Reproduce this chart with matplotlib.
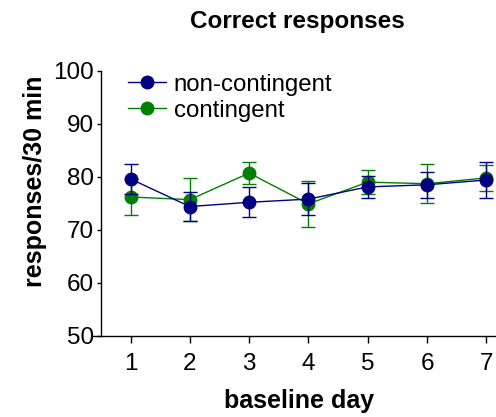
import matplotlib
matplotlib.use("Agg")
import matplotlib.pyplot as plt
from matplotlib.lines import Line2D

plt.rcParams['font.family'] = ['Liberation Sans', 'DejaVu Sans']

days = [1, 2, 3, 4, 5, 6, 7]
noncont_mean = [79.6, 74.4, 75.2, 75.8, 78.1, 78.5, 79.4]
noncont_sem = [2.9, 2.65, 2.85, 2.95, 2.1, 2.45, 3.3]
cont_mean = [76.2, 75.7, 80.7, 74.9, 79.0, 78.7, 79.8]
cont_sem = [3.4, 4.0, 2.1, 4.4, 2.3, 3.7, 2.45]
yticks = [50, 60, 70, 80, 90, 100]

W, H = 496, 417
fig = plt.figure(figsize=(W / 100, H / 100), dpi=100)

def fx(px):
    return px / W

def fy(py):
    return 1 - py / H

ax_left, ax_right, ax_top, ax_bot = 93, 496, 70.7, 336
ax = fig.add_axes([fx(ax_left), fy(ax_bot), fx(ax_right - ax_left), fy(ax_top) - fy(ax_bot)])

x1px, pxunit = 130.5, 59.3
ax.set_xlim(1 - (x1px - ax_left) / pxunit, 1 + (ax_right - x1px) / pxunit)
ax.set_ylim(50, 100)

blue = '#000080'
green = '#008000'
ms = 9.0
lw = 1.0

ax.errorbar(days, cont_mean, yerr=cont_sem, color=green, marker='o', ms=ms,
            lw=lw, elinewidth=lw, capsize=5, capthick=lw, zorder=3, clip_on=False)
ax.errorbar(days, noncont_mean, yerr=noncont_sem, color=blue, marker='o', ms=ms,
            lw=lw, elinewidth=lw, capsize=5, capthick=lw, zorder=4, clip_on=False)

ax.spines['top'].set_visible(False)
ax.spines['right'].set_visible(False)
ax.spines['left'].set_position(('data', 1 - (x1px - 101) / pxunit))
for s in ['left', 'bottom']:
    ax.spines[s].set_linewidth(1.0)

ax.set_xticks(days)
ax.set_yticks(yticks)
ax.tick_params(axis='x', length=5, width=1.0, pad=7, labelsize=17.5, direction='out')
ax.tick_params(axis='y', length=3.1, width=1.0, pad=1.7, labelsize=17.5, direction='out')

handles = [Line2D([], [], color=blue, marker='o', ms=ms, lw=lw),
           Line2D([], [], color=green, marker='o', ms=ms, lw=lw)]
fig.legend(handles, ['non-contingent', 'contingent'], loc='upper left',
           bbox_to_anchor=(fx(128), fy(73.5)), frameon=False, fontsize=17.3,
           handlelength=1.6, handletextpad=0.3, labelspacing=0.18,
           borderpad=0, borderaxespad=0, numpoints=1)

fig.text(fx(297), fy(28.3), 'Correct responses', ha='center', va='baseline',
         fontsize=17.5, fontweight='bold')
fig.text(fx(299), fy(408), 'baseline day', ha='center', va='baseline',
         fontsize=18, fontweight='bold')
fig.text(fx(35), fy(181), 'responses/30 min', ha='center', va='center',
         rotation=90, fontsize=18, fontweight='bold')

fig.savefig('out.png', dpi=100)
